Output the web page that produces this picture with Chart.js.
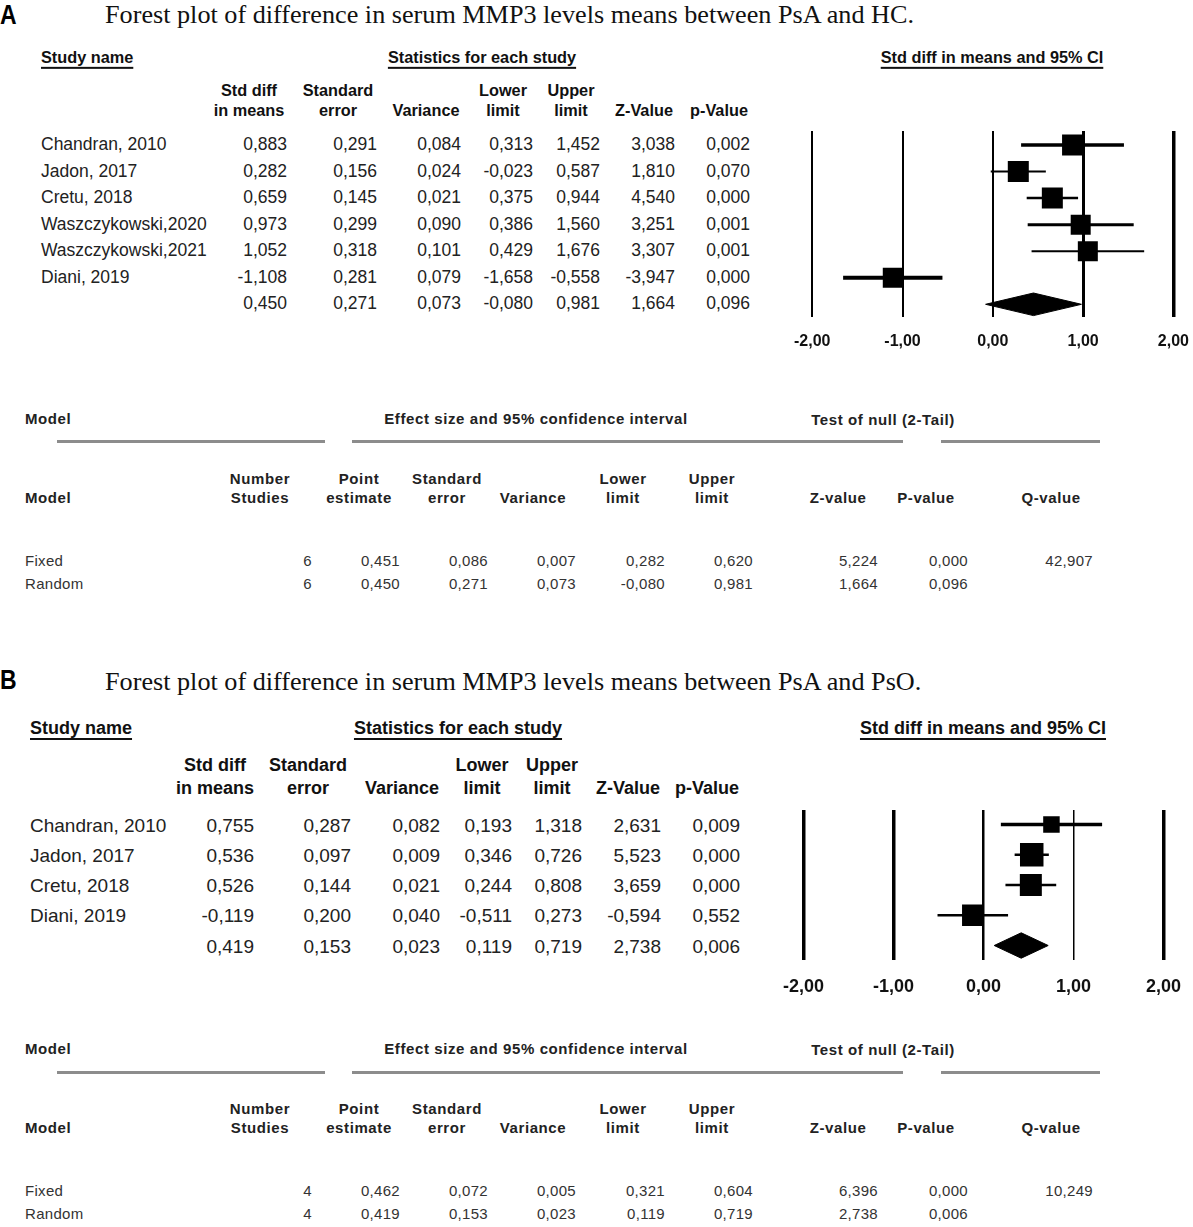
<!DOCTYPE html>
<html>
<head>
<meta charset="utf-8">
<script src="https://cdn.jsdelivr.net/npm/chart.js@4.4.1/dist/chart.umd.min.js"></script>
<style>
  body { margin: 0; background: #fff; }
  #page { position: relative; width: 1193px; height: 1227px; overflow: hidden; background: #fff;
          font-family: Arial, "Liberation Sans", sans-serif; color: #222; }
  .t { position: absolute; white-space: nowrap; line-height: 1; transform-origin: 0 50%; }
  .panel { font-weight: bold; font-size: 28px; color: #000; }
  .title { font-family: "Liberation Serif", "Times New Roman", serif; font-size: 26.2px; color: #111; }
  .hA { font-weight: bold; font-size: 16.3px; color: #111; }
  .rA { font-size: 17.5px; }
  .hB { font-weight: bold; font-size: 18px; color: #111; }
  .rB { font-size: 19px; }
  .u { text-decoration: underline; text-decoration-thickness: 2px; text-underline-offset: 4px; }
  .mb { font-weight: bold; font-size: 15px; letter-spacing: 0.6px; color: #222; }
  .mv { font-size: 15px; letter-spacing: 0.3px; color: #333; }
  .rule { position: absolute; height: 3px; background: #8c8c8c; }
  canvas { position: absolute; }
</style>
</head>
<body>
<div id="page">
  <canvas id="plotA" width="425" height="241" style="left:779px;top:121px"></canvas>
  <canvas id="plotB" width="430" height="205" style="left:767px;top:800px"></canvas>
</div>
<script>
// ---- panel A: PsA vs HC ----
const studiesA = ['Chandran, 2010', 'Jadon, 2017', 'Cretu, 2018', 'Waszczykowski,2020', 'Waszczykowski,2021', 'Diani, 2019'];
const smdA   = [0.883, 0.282, 0.659, 0.973, 1.052, -1.108];
const seA    = [0.291, 0.156, 0.145, 0.299, 0.318, 0.281];
const varA   = [0.084, 0.024, 0.021, 0.090, 0.101, 0.079];
const lowerA = [0.313, -0.023, 0.375, 0.386, 0.429, -1.658];
const upperA = [1.452, 0.587, 0.944, 1.560, 1.676, -0.558];
const zA     = [3.038, 1.810, 4.540, 3.251, 3.307, -3.947];
const pA     = [0.002, 0.070, 0.000, 0.001, 0.001, 0.000];
const pooledA = [0.450, 0.271, 0.073, -0.080, 0.981, 1.664, 0.096];

const modelsA   = ['Fixed', 'Random'];
const modelNA   = [6, 6];
const modelEstA = [0.451, 0.450];
const modelSeA  = [0.086, 0.271];
const modelVarA = [0.007, 0.073];
const modelLoA  = [0.282, -0.080];
const modelHiA  = [0.620, 0.981];
const modelZA   = [5.224, 1.664];
const modelPA   = [0.000, 0.096];
const qA = 42.907;

// ---- panel B: PsA vs PsO ----
const studiesB = ['Chandran, 2010', 'Jadon, 2017', 'Cretu, 2018', 'Diani, 2019'];
const smdB   = [0.755, 0.536, 0.526, -0.119];
const seB    = [0.287, 0.097, 0.144, 0.200];
const varB   = [0.082, 0.009, 0.021, 0.040];
const lowerB = [0.193, 0.346, 0.244, -0.511];
const upperB = [1.318, 0.726, 0.808, 0.273];
const zB     = [2.631, 5.523, 3.659, -0.594];
const pB     = [0.009, 0.000, 0.000, 0.552];
const pooledB = [0.419, 0.153, 0.023, 0.119, 0.719, 2.738, 0.006];

const modelsB   = ['Fixed', 'Random'];
const modelNB   = [4, 4];
const modelEstB = [0.462, 0.419];
const modelSeB  = [0.072, 0.153];
const modelVarB = [0.005, 0.023];
const modelLoB  = [0.321, 0.119];
const modelHiB  = [0.604, 0.719];
const modelZB   = [6.396, 2.738];
const modelPB   = [0.000, 0.006];
const qB = 10.249;

const axisTicks = [-2, -1, 0, 1, 2];

const page = document.getElementById('page');
const f3 = v => v.toFixed(3).replace('.', ',');

function put(txt, x, y, cls, align, extra) {
  const d = document.createElement('div');
  d.className = 't ' + cls;
  d.textContent = txt;
  d.style.left = x + 'px';
  d.style.top = y + 'px';
  const tx = align === 'r' ? '-100%' : align === 'c' ? '-50%' : '0';
  d.style.transform = 'translate(' + tx + ',-50%)' + (extra || '');
  page.appendChild(d);
}

function rule(x1, x2, y) {
  const d = document.createElement('div');
  d.className = 'rule';
  d.style.left = x1 + 'px';
  d.style.width = (x2 - x1) + 'px';
  d.style.top = (y - 1.5) + 'px';
  page.appendChild(d);
}

// study table (top half of each panel)
function studyTable(L, names, cols, pooled) {
  put('Study name', L.nameX, L.secY, L.h + ' u', 'l');
  put('Statistics for each study', L.statX, L.secY, L.h + ' u', 'c');
  put('Std diff in means and 95% CI', L.ciX, L.secY, L.h + ' u', 'c');
  const heads = [['Std diff', 'in means'], ['Standard', 'error'], ['Variance'], ['Lower', 'limit'],
                 ['Upper', 'limit'], ['Z-Value'], ['p-Value']];
  heads.forEach((h, j) => {
    if (h.length === 2) {
      put(h[0], L.headX[j], L.headY[0], L.h, 'c');
      put(h[1], L.headX[j], L.headY[1], L.h, 'c');
    } else {
      put(h[0], L.headX[j], L.headY[1], L.h, 'c');
    }
  });
  names.forEach((n, i) => {
    const y = L.row0 + i * L.step;
    put(n, L.nameX, y, L.r, 'l');
    cols.forEach((c, j) => put(f3(c[i]), L.colR[j], y, L.r, 'r'));
  });
  const yp = L.row0 + names.length * L.step;
  pooled.forEach((v, j) => put(f3(v), L.colR[j], yp, L.r, 'r'));
}

// model summary table (bottom half of each panel)
function modelTable(M, models, n, cols, q) {
  put('Model', 25, M.y0, 'mb', 'l');
  put('Effect size and 95% confidence interval', 536, M.y0, 'mb', 'c');
  put('Test of null (2-Tail)', 883, M.y0 + 1, 'mb', 'c');
  rule(57, 325, M.ruleY);
  rule(352, 903, M.ruleY);
  rule(941, 1100, M.ruleY);
  put('Model', 25, M.hy[1], 'mb', 'l');
  const heads = [['Number', 'Studies', 260], ['Point', 'estimate', 359], ['Standard', 'error', 447],
                 [null, 'Variance', 533], ['Lower', 'limit', 623], ['Upper', 'limit', 712],
                 [null, 'Z-value', 838], [null, 'P-value', 926], [null, 'Q-value', 1051]];
  heads.forEach(h => {
    if (h[0]) put(h[0], h[2], M.hy[0], 'mb', 'c');
    put(h[1], h[2], M.hy[1], 'mb', 'c');
  });
  const R = [312, 400, 488, 576, 665, 753, 878, 968, 1093];
  models.forEach((m, i) => {
    const y = M.vy[i];
    put(m, 25, y, 'mv', 'l');
    put(String(n[i]), R[0], y, 'mv', 'r');
    cols.forEach((c, j) => put(f3(c[i]), R[j + 1], y, 'mv', 'r'));
    if (i === 0) put(f3(q), R[8], y, 'mv', 'r');
  });
}

// forest plot drawn by Chart.js
function forest(id, G, smd, lo, hi, pooled, S) {
  const nS = smd.length;
  const yMin = -(G.row0 - G.top) / G.step;
  const yMax = yMin + G.h / G.step;
  const dh = S.diamondPx / G.step;
  const datasets = [];
  smd.forEach((v, i) => {
    datasets.push({
      data: [{ x: lo[i], y: i }, { x: hi[i], y: i }],
      showLine: true, borderColor: '#000', borderWidth: S.ciW[i],
      pointRadius: 0, order: 2
    });
  });
  datasets.push({
    data: smd.map((v, i) => ({ x: v, y: i })),
    pointStyle: 'rect',
    pointRadius: S.box.map(s => s / 2 / Math.SQRT1_2),
    pointBackgroundColor: '#000', pointBorderWidth: 0, order: 1
  });
  const est = pooled[0], pl = pooled[3], ph = pooled[4];
  datasets.push({
    data: [{ x: pl, y: nS }, { x: est, y: nS - dh }, { x: ph, y: nS }, { x: est, y: nS + dh }, { x: pl, y: nS }],
    showLine: true, fill: 'shape', backgroundColor: '#000', borderColor: '#000', borderWidth: 1,
    pointRadius: 0, tension: 0, order: 0, clip: 4
  });

  new Chart(document.getElementById(id), {
    type: 'scatter',
    data: { datasets },
    options: {
      responsive: false, animation: false, devicePixelRatio: 1,
      layout: { autoPadding: false, padding: { left: 30, right: 30, top: 10, bottom: 0 } },
      plugins: { legend: { display: false }, tooltip: { enabled: false } },
      scales: {
        x: {
          type: 'linear', min: -2, max: 2,
          afterBuildTicks: s => { s.ticks = axisTicks.map(v => ({ value: v })); },
          afterFit: s => { s.height = 45; },
          border: { display: false },
          grid: { color: '#000', lineWidth: c => S.gridW[c.index], drawTicks: false },
          ticks: {
            padding: G.tickPad, color: '#111',
            font: { family: 'Arial, "Liberation Sans", sans-serif', weight: 'bold', size: G.tickSize },
            callback: v => v.toFixed(2).replace('.', ',')
          }
        },
        y: { type: 'linear', display: false, reverse: true, min: yMin, max: yMax }
      }
    }
  });
}

// ---------------- panel A ----------------
put('A', 0, 15, 'panel', 'l', ' scaleX(0.82)');
put('Forest plot of difference in serum MMP3 levels means between PsA and HC.', 105, 15, 'title', 'l');
studyTable({
  h: 'hA', r: 'rA', nameX: 41, secY: 57, statX: 482, ciX: 992,
  headX: [249, 338, 426, 503, 571, 644, 719], headY: [90, 110],
  row0: 145, step: 26.55, colR: [287, 377, 461, 533, 600, 675, 750]
}, studiesA, [smdA, seA, varA, lowerA, upperA, zA, pA], pooledA);
forest('plotA', { top: 131, h: 186, row0: 145, step: 26.55, tickPad: 15, tickSize: 16 },
  smdA, lowerA, upperA, pooledA,
  { box: [21, 21, 21, 20, 20, 20], ciW: [3.5, 2, 2.5, 3, 2, 4], gridW: [2, 2, 2, 3, 3.5], diamondPx: 11.3 });
modelTable({ y0: 418, ruleY: 441.5, hy: [478, 497], vy: [560, 583] },
  modelsA, modelNA, [modelEstA, modelSeA, modelVarA, modelLoA, modelHiA, modelZA, modelPA], qA);

// ---------------- panel B ----------------
put('B', 0, 680, 'panel', 'l', ' scaleX(0.82)');
put('Forest plot of difference in serum MMP3 levels means between PsA and PsO.', 105, 682, 'title', 'l');
studyTable({
  h: 'hB', r: 'rB', nameX: 30, secY: 728, statX: 458, ciX: 983,
  headX: [215, 308, 402, 482, 552, 628, 707], headY: [765, 788],
  row0: 824.5, step: 30.25, colR: [254, 351, 440, 512, 582, 661, 740]
}, studiesB, [smdB, seB, varB, lowerB, upperB, zB, pB], pooledB);
forest('plotB', { top: 810, h: 150, row0: 824.5, step: 30.25, tickPad: 16, tickSize: 18 },
  smdB, lowerB, upperB, pooledB,
  { box: [16.5, 23.5, 22, 21.5], ciW: [3.5, 2.5, 2.5, 2.5], gridW: [3.5, 3.5, 2.5, 1.5, 3.5], diamondPx: 12.7 });
modelTable({ y0: 1048, ruleY: 1072, hy: [1108, 1127], vy: [1190, 1213] },
  modelsB, modelNB, [modelEstB, modelSeB, modelVarB, modelLoB, modelHiB, modelZB, modelPB], qB);
</script>
</body>
</html>
